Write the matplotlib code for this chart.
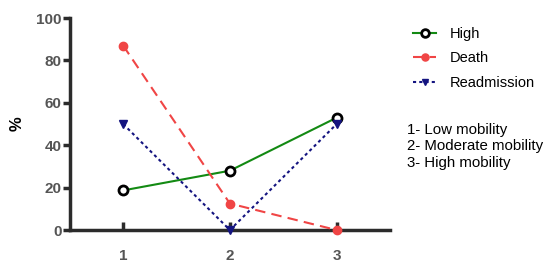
import matplotlib
matplotlib.use("Agg")
import matplotlib.pyplot as plt

x = [1, 2, 3]
high = [18.7, 28.0, 53.0]
death = [87.0, 12.5, 0.0]
readmission = [50.0, 0.0, 50.0]
xticklabels = ["1", "2", "3"]
yticks = [0, 20, 40, 60, 80, 100]
notes = ["1- Low mobility", "2- Moderate mobility", "3- High mobility"]

plt.rcParams['font.family'] = ['Liberation Sans', 'DejaVu Sans']

fig = plt.figure(figsize=(5.5, 2.7), dpi=100)
ax = fig.add_axes([0.127, 0.148, 0.582, 0.785])

ax.plot(x, high, color='#138a13', lw=1.5, ls='-', marker='o', mfc='white',
        mec='black', mew=2.0, ms=6.5, label='High', clip_on=False, zorder=3)
ax.plot(x, death, color='#f04545', lw=1.5, ls=(0, (5, 3)), marker='o',
        mfc='#f04545', mec='#f04545', ms=6, label='Death', clip_on=False, zorder=3)
ax.plot(x, readmission, color='#141480', lw=1.5, ls=(0, (1.5, 1.5)), marker='v',
        mfc='#141480', mec='#141480', ms=5.5, label='Readmission', clip_on=False, zorder=3)

ax.set_xlim(0.5, 3.5)
ax.set_ylim(0, 100)
ax.set_xticks(x)
ax.set_xticklabels(xticklabels)
ax.set_yticks(yticks)
for s in ['top', 'right']:
    ax.spines[s].set_visible(False)
ax.spines['left'].set_linewidth(2.5)
ax.spines['bottom'].set_linewidth(2.5)
ax.spines['left'].set_color('#2b2b2b')
ax.spines['bottom'].set_color('#2b2b2b')
ax.tick_params(axis='x', direction='in', length=6, width=2.5, color='#2b2b2b',
               pad=14, labelsize=11, labelcolor='#555555')
ax.tick_params(axis='y', direction='out', length=5, width=2.5, color='#2b2b2b',
               pad=1, labelsize=11, labelcolor='#555555')
for lab in ax.get_xticklabels() + ax.get_yticklabels():
    lab.set_fontweight('bold')
ax.set_ylabel('%', fontsize=12, fontweight='bold', labelpad=8)

leg = fig.legend(loc='upper left', bbox_to_anchor=(0.751, 0.901), frameon=False,
                 fontsize=10.5, handlelength=1.6, labelspacing=0.72, handletextpad=0.9,
                 borderpad=0, borderaxespad=0, markerscale=0.85)

note_y = [130, 146, 163]
for yy, t in zip(note_y, notes):
    fig.text(407 / 550, 1 - yy / 270, t, fontsize=10.8, va='center', ha='left')

fig.savefig('out.png', dpi=100)
